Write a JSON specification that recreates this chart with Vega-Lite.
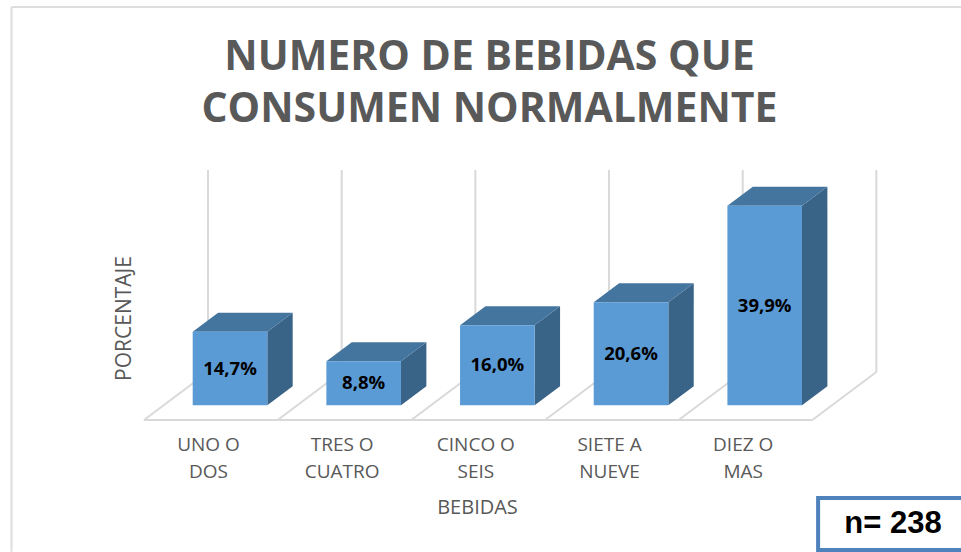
{
"$schema":"https://vega.github.io/schema/vega-lite/v6.json",
"width":961,"height":250,
"autosize":{"type":"none"},
"padding":{"left":0,"top":170,"right":0,"bottom":132},
"background":"white",
"config":{"view":{"stroke":null}},
"title":{"text":["NUMERO DE BEBIDAS QUE","CONSUMEN NORMALMENTE"],"font":"Open Sans","fontSize":41,"fontWeight":700,"color":"#595959","anchor":"middle","frame":"group","offset":-125,"dx":9,"lineHeight":52},
"datasets":{
"bebidas":[
{"bebida":"UNO O DOS","orden":0,"porcentaje":14.7},
{"bebida":"TRES O CUATRO","orden":1,"porcentaje":8.8},
{"bebida":"CINCO O SEIS","orden":2,"porcentaje":16.0},
{"bebida":"SIETE A NUEVE","orden":3,"porcentaje":20.6},
{"bebida":"DIEZ O MAS","orden":4,"porcentaje":39.9}],
"rejilla":[{"orden":0},{"orden":1},{"orden":2},{"orden":3},{"orden":4},{"orden":5}]
},
"layer":[
{"data":{"name":"rejilla"},
 "transform":[{"calculate":"6.66","as":"abajo"},{"calculate":"47.06","as":"arriba"}],
 "mark":{"type":"rule","color":"#D9D9D9","strokeWidth":2},
 "encoding":{
  "x":{"field":"orden","type":"quantitative","scale":{"domain":[-1.556,5.633],"nice":false,"zero":false},
   "axis":{"title":"BEBIDAS","titleFont":"Open Sans","titleFontSize":20,"titleFontWeight":400,"titleColor":"#595959","titleX":477,"titleY":87,"titleBaseline":"middle","values":[0,1,2,3,4],"labelExpr":"split(['UNO O|DOS','TRES O|CUATRO','CINCO O|SEIS','SIETE A|NUEVE','DIEZ O|MAS'][datum.value],'|')","labelFont":"Open Sans","labelFontSize":19,"labelColor":"#595959","labelPadding":15,"labelLineHeight":27,"labelBaseline":"top","labelAngle":0,"labelFlush":false,"labelOverlap":false,"domain":false,"ticks":false,"grid":false}},
  "y":{"field":"abajo","type":"quantitative","scale":{"domain":[-2.94,47.06],"nice":false,"zero":false},
   "axis":{"title":"PORCENTAJE","titleFont":"Open Sans","titleFontSize":21,"titleFontWeight":400,"titleColor":"#595959","titleX":124,"titleY":148,"titleAngle":-90,"titleBaseline":"middle","labels":false,"ticks":false,"domain":false,"grid":false}},
  "y2":{"field":"arriba"}}},
{"data":{"name":"rejilla"},
 "transform":[{"calculate":"datum.orden-0.479","as":"frente"},{"calculate":"-2.94","as":"yf"},{"calculate":"6.66","as":"yb"}],
 "mark":{"type":"rule","color":"#D9D9D9","strokeWidth":2},
 "encoding":{"x":{"field":"frente","type":"quantitative"},"x2":{"field":"orden"},"y":{"field":"yf","type":"quantitative"},"y2":{"field":"yb"}}},
{"data":{"values":[{}]},
 "mark":{"type":"rule","color":"#D9D9D9","strokeWidth":2},
 "encoding":{"x":{"datum":-0.479},"x2":{"datum":4.521},"y":{"datum":-2.94}}},
{"data":{"values":[{}]},
 "mark":{"type":"rule","color":"#DDDDDD","strokeWidth":2,"clip":false},
 "encoding":{"x":{"datum":-1.47},"x2":{"datum":5.633},"y":{"datum":79.66}}},
{"data":{"values":[{}]},
 "mark":{"type":"rule","color":"#DDDDDD","strokeWidth":2,"clip":false},
 "encoding":{"x":{"datum":-1.47},"y":{"datum":79.66},"y2":{"datum":-29.3}}},
{"data":{"name":"bebidas"},
 "transform":[
  {"calculate":"datum.orden+0.4436","as":"frontal"},
  {"calculate":"datum.orden+0.6336","as":"trasero"},
  {"fold":["frontal","trasero"],"as":["cara","xv"]},
  {"calculate":"datum.cara=='trasero'?3.8:0","as":"y0"},
  {"calculate":"datum.porcentaje+datum.y0","as":"y1"}],
 "mark":{"type":"area","color":"#3A6388","orient":"vertical"},
 "encoding":{"x":{"field":"xv","type":"quantitative"},"y":{"field":"y1","type":"quantitative"},"y2":{"field":"y0"},"detail":{"field":"bebida"}}},
{"data":{"name":"bebidas"},
 "transform":[
  {"calculate":"datum.porcentaje","as":"frontal"},
  {"calculate":"datum.porcentaje+3.8","as":"trasero"},
  {"fold":["frontal","trasero"],"as":["cara","yv"]},
  {"calculate":"datum.orden-0.1145+(datum.cara=='trasero'?0.19:0)","as":"x1"},
  {"calculate":"datum.orden+0.4436+(datum.cara=='trasero'?0.19:0)","as":"x2"}],
 "mark":{"type":"area","color":"#44759F","orient":"horizontal"},
 "encoding":{"y":{"field":"yv","type":"quantitative"},"x":{"field":"x1","type":"quantitative"},"x2":{"field":"x2"},"detail":{"field":"bebida"}}},
{"data":{"name":"bebidas"},
 "transform":[{"calculate":"datum.orden-0.1145","as":"xi"},{"calculate":"datum.orden+0.4436","as":"xd"},{"calculate":"0","as":"base"}],
 "mark":{"type":"rect","color":"#5B9BD5"},
 "encoding":{"x":{"field":"xi","type":"quantitative"},"x2":{"field":"xd"},"y":{"field":"porcentaje","type":"quantitative"},"y2":{"field":"base"}}},
{"data":{"name":"bebidas"},
 "transform":[{"calculate":"datum.orden+0.1645","as":"xc"},{"calculate":"datum.porcentaje/2","as":"yc"},{"calculate":"replace(format(datum.porcentaje,'.1f'),'.',',')+'%'","as":"etiqueta"}],
 "mark":{"type":"text","font":"Open Sans","fontWeight":700,"fontSize":18.5,"color":"#000000","align":"center","baseline":"middle"},
 "encoding":{"x":{"field":"xc","type":"quantitative"},"y":{"field":"yc","type":"quantitative"},"text":{"field":"etiqueta"}}},
{"data":{"values":[{}]},
 "mark":{"type":"rect","fill":"white","stroke":"#4F81BD","strokeWidth":4,"clip":false},
 "encoding":{"x":{"datum":4.564},"x2":{"datum":5.66},"y":{"datum":-18.54},"y2":{"datum":-28.94}}},
{"data":{"values":[{"nota":"n= 238"}]},
 "mark":{"type":"text","font":"Liberation Sans","fontWeight":700,"fontSize":31,"color":"#000000","align":"center","baseline":"middle"},
 "encoding":{"x":{"datum":5.124},"y":{"datum":-23.74},"text":{"field":"nota"}}}
]
}
